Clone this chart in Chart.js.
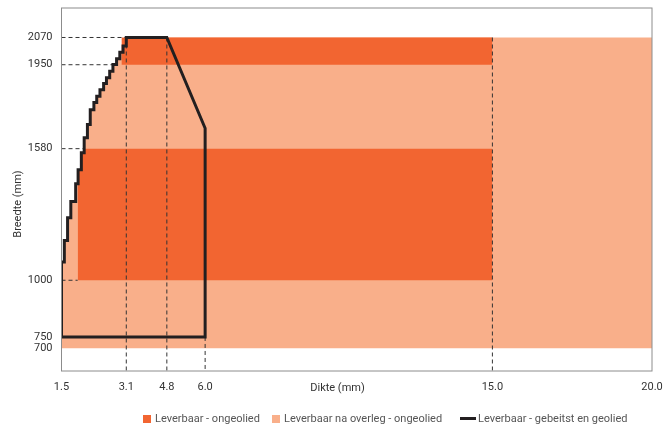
<!DOCTYPE html>
<html><head><meta charset="utf-8">
<script src="https://cdn.jsdelivr.net/npm/chart.js@4.4.1/dist/chart.umd.min.js"></script>
<style>
html,body{margin:0;padding:0;background:#fff;}
#wrap{position:relative;width:668px;height:427px;overflow:hidden;}
#legend{position:absolute;left:0;top:0;width:668px;height:427px;pointer-events:none;font-family:Roboto,sans-serif;font-size:11px;color:#555;}
.li{position:absolute;top:412px;height:13px;line-height:13px;white-space:nowrap;display:flex;align-items:center;}
.sw{display:inline-block;width:8px;height:8px;margin-right:4px;}
.ln{display:inline-block;width:16px;height:3px;margin-right:2px;}
</style></head><body>
<div id="wrap"><canvas id="c" width="668" height="427"></canvas><div id="legend"></div></div>
<script>
// ---------- data ----------
const seriesLabels = ['Leverbaar - ongeolied', 'Leverbaar na overleg - ongeolied', 'Leverbaar - gebeitst en geolied'];
const xTicks = [1.5, 3.1, 4.8, 6.0, 15.0, 20.0];
const yTicks = [700, 750, 1000, 1580, 1950, 2070];
// staircase of the black outline (thickness -> max width)
const stepX = [1.5, 1.57, 1.65, 1.73, 1.85, 1.91, 1.99, 2.06, 2.14, 2.21, 2.30, 2.37, 2.45, 2.54, 2.61, 2.69, 2.77, 2.86, 2.94, 3.02, 3.1];
const stepY = [1080, 1175, 1275, 1347, 1425, 1487, 1562, 1628, 1686, 1752, 1783, 1811, 1840, 1867, 1893, 1921, 1951, 1976, 2005, 2032, 2070];
const outlineBaseY = 750;
const outlineCornerX = [4.8, 6.0, 6.0];
const outlineCornerY = [2070, 1670, 750];
// light area (na overleg)
const lightX = [1.5, 20.0];
const lightY = [700, 2070];
// dark areas (leverbaar)
const darkTopX = [2.98, 15.0];
const darkTopY = [1950, 2070];
const darkMidX = [1.9, 15.0];
const darkMidY = [1000, 1580];
// guide lines
const hGuideY = [2070, 1950, 1580, 1000];
const hGuideEndX = [3.1, 2.77, 2.06, 1.9];
const vGuideX = [3.1, 4.8, 6.0, 15.0];
const vGuideTopY = [2070, 2070, 750, 2070];

// x axis of the original is not uniform between 1.5 and 4.8
const X_WARP = {values: [1.5, 3.1, 4.8, 20.0], linear: [1.5, 3.53, 4.8, 20.0]};

const COL_DARK = '#F26531', COL_LIGHT = '#F9AF8A', COL_LINE = '#231F20', COL_GUIDE = '#333333';

// ---------- warped linear scale ----------
class WarpScale extends Chart.LinearScale {
  _w(v) {
    const a = X_WARP.values, b = X_WARP.linear;
    if (v <= a[0]) return b[0] + (v - a[0]);
    for (let i = 1; i < a.length; i++) {
      if (v <= a[i]) return b[i-1] + (v - a[i-1]) * (b[i] - b[i-1]) / (a[i] - a[i-1]);
    }
    return b[b.length-1] + (v - a[a.length-1]);
  }
  _uw(u) {
    const a = X_WARP.values, b = X_WARP.linear;
    if (u <= b[0]) return a[0] + (u - b[0]);
    for (let i = 1; i < b.length; i++) {
      if (u <= b[i]) return a[i-1] + (u - b[i-1]) * (a[i] - a[i-1]) / (b[i] - b[i-1]);
    }
    return a[a.length-1] + (u - b[b.length-1]);
  }
  getPixelForValue(value) {
    if (value === null || value === undefined || isNaN(value)) return NaN;
    return this.getPixelForDecimal((this._w(value) - this._startValue) / this._valueRange);
  }
  getValueForPixel(pixel) {
    return this._uw(this._startValue + this.getDecimalForPixel(pixel) * this._valueRange);
  }
}
WarpScale.id = 'warp';
WarpScale.defaults = Chart.LinearScale.defaults;
Chart.register(WarpScale);

// ---------- build shapes from data ----------
function stairPoints() {
  const pts = [{x: stepX[0], y: outlineBaseY}];
  for (let i = 0; i < stepX.length; i++) {
    if (i > 0) pts.push({x: stepX[i], y: stepY[i-1]});
    pts.push({x: stepX[i], y: stepY[i]});
  }
  return pts;
}
const stair = stairPoints();
const outlinePts = stair.concat(outlineCornerX.map((x, i) => ({x, y: outlineCornerY[i]})), [{x: stepX[0], y: outlineBaseY}]);
const lightPts = stair.map(p => ({x: p.x, y: Math.min(p.y, lightY[1])})).concat([{x: lightX[1], y: lightY[1]}]);
const darkMidPts = stair.map(p => ({x: Math.max(p.x, darkMidX[0]), y: Math.min(Math.max(p.y, darkMidY[0]), darkMidY[1])}))
  .concat([{x: darkMidX[1], y: darkMidY[1]}]);
const darkTopPts = [{x: darkTopX[0], y: darkTopY[1]}, {x: darkTopX[1], y: darkTopY[1]}];

const base = {showLine: true, pointRadius: 0, pointHoverRadius: 0, tension: 0};
const datasets = [];
datasets.push(Object.assign({}, base, {label: seriesLabels[2], data: outlinePts, borderColor: COL_LINE, borderWidth: 3, fill: false, borderJoinStyle: 'miter'}));
hGuideY.forEach((y, i) => datasets.push(Object.assign({}, base, {label: 'g', data: [{x: xTicks[0], y}, {x: hGuideEndX[i], y}], borderColor: COL_GUIDE, borderWidth: 1, borderDash: [4, 3], fill: false})));
vGuideX.forEach((x, i) => datasets.push(Object.assign({}, base, {label: 'g', data: [{x, y: vGuideTopY[i]}, {x, y: 600}], borderColor: COL_GUIDE, borderWidth: 1, borderDash: [4, 3], fill: false})));
datasets.push(Object.assign({}, base, {label: seriesLabels[0], data: darkMidPts, borderColor: 'transparent', borderWidth: 0, backgroundColor: COL_DARK, fill: {value: darkMidY[0]}}));
datasets.push(Object.assign({}, base, {label: seriesLabels[0], data: darkTopPts, borderColor: 'transparent', borderWidth: 0, backgroundColor: COL_DARK, fill: {value: darkTopY[0]}}));
datasets.push(Object.assign({}, base, {label: seriesLabels[1], data: lightPts, borderColor: 'transparent', borderWidth: 0, backgroundColor: COL_LIGHT, fill: {value: lightY[0]}}));

const decor = {
  id: 'decor',
  afterDatasetsDraw(chart) {
    const {ctx, chartArea: a} = chart;
    ctx.save();
    ctx.strokeStyle = '#8c8c8c';
    ctx.lineWidth = 1;
    ctx.strokeRect(a.left, a.top, a.right - a.left, a.bottom - a.top);
    ctx.restore();
  },
  afterDraw(chart) {
    const {ctx} = chart;
    ctx.save();
    ctx.fillStyle = '#333';
    ctx.font = '11px Roboto, sans-serif';
    ctx.textAlign = 'center';
    ctx.textBaseline = 'middle';
    ctx.fillText('Dikte (mm)', 337.5, 388);
    ctx.translate(18, 204);
    ctx.rotate(-Math.PI / 2);
    ctx.fillText('Breedte (mm)', 0, 0);
    ctx.restore();
  }
};

Chart.defaults.font.family = 'Roboto, sans-serif';
Chart.defaults.font.size = 11;
Chart.defaults.color = '#333';

new Chart(document.getElementById('c'), {
  type: 'scatter',
  data: {datasets},
  options: {
    responsive: false,
    animation: false,
    events: [],
    layout: {padding: {left: 0, right: 16, top: 8, bottom: 0}},
    plugins: {legend: {display: false}, tooltip: {enabled: false}},
    scales: {
      x: {
        type: 'warp', min: 1.5, max: 20,
        grid: {display: false, drawTicks: false},
        border: {display: false},
        afterBuildTicks: s => { s.ticks = xTicks.map(v => ({value: v})); },
        afterFit: s => { s.height = 56; s.paddingLeft = 0; s.paddingRight = 0; },
        ticks: {autoSkip: false, maxRotation: 0, padding: 10, callback: v => Number(v).toFixed(1)}
      },
      y: {
        type: 'linear', min: 600, max: 2200,
        grid: {display: false, drawTicks: false},
        border: {display: false},
        afterBuildTicks: s => { s.ticks = yTicks.map(v => ({value: v})); },
        afterFit: s => { s.width = 61.5; s.paddingTop = 0; s.paddingBottom = 0; },
        ticks: {autoSkip: false, padding: 9, callback: v => String(v)}
      }
    }
  },
  plugins: [decor]
});

// HTML legend
const legendItems = [
  {text: seriesLabels[0], kind: 'sw', color: COL_DARK, left: 143},
  {text: seriesLabels[1], kind: 'sw', color: COL_LIGHT, left: 272},
  {text: seriesLabels[2], kind: 'ln', color: COL_LINE, left: 460}
];
const lg = document.getElementById('legend');
legendItems.forEach(it => {
  const d = document.createElement('div');
  d.className = 'li';
  d.style.left = it.left + 'px';
  const s = document.createElement('span');
  s.className = it.kind;
  s.style.background = it.color;
  d.appendChild(s);
  d.appendChild(document.createTextNode(it.text));
  lg.appendChild(d);
});
</script>
</body></html>
